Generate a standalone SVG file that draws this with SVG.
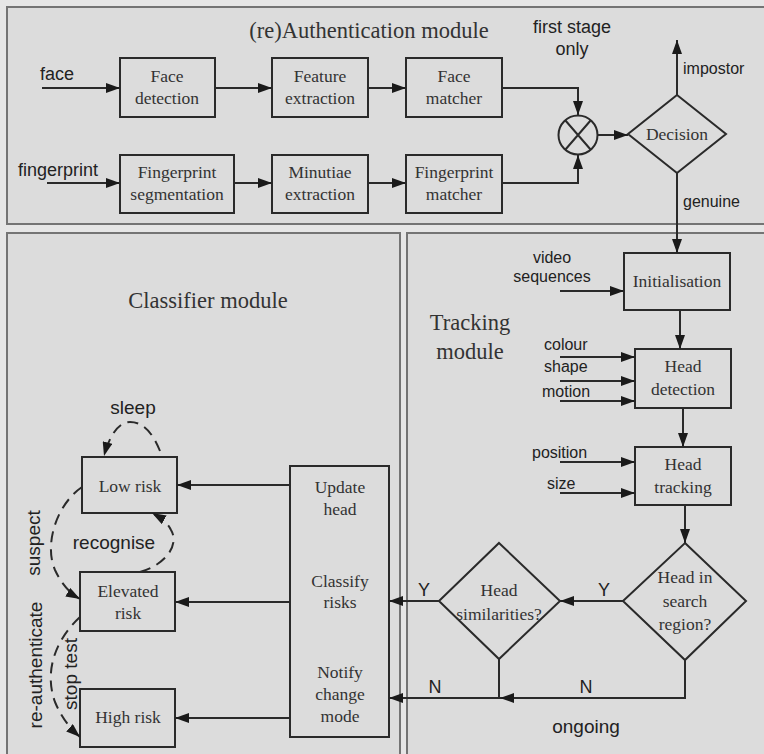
<svg xmlns="http://www.w3.org/2000/svg" width="764" height="754" viewBox="0 0 764 754">
  <style>
    .panel { fill: #dcdcdc; stroke: #747474; stroke-width: 2; }
    .box { fill: none; stroke: #2a2a2a; stroke-width: 2; }
    .ln { fill: none; stroke: #2a2a2a; stroke-width: 2; }
    .dash { fill: none; stroke: #2a2a2a; stroke-width: 2; stroke-dasharray: 11 7; }
    .serif { font-family: "Liberation Serif", "DejaVu Serif", serif; fill: #333; }
    .box-t { font-size: 17.5px; text-anchor: middle; }
    .title { font-size: 22.5px; }
    .sans { font-family: "Liberation Sans", Arial, sans-serif; fill: #222; }
    .s16 { font-size: 16px; }
    .s18 { font-size: 18px; }
    .s19 { font-size: 19px; }
    .mid { text-anchor: middle; }
  </style>
  <defs>
    <marker id="arrow" viewBox="0 0 14 10" refX="14" refY="5" markerWidth="14" markerHeight="10" markerUnits="userSpaceOnUse" orient="auto">
      <path d="M0,0 L14,5 L0,10 z" fill="#1a1a1a"/>
    </marker>
  </defs>

  <!-- background and module panels -->
  <rect x="0" y="0" width="764" height="754" fill="#e6e6e6"/>
  <rect class="panel" x="7" y="7" width="770" height="217"/>
  <rect class="panel" x="7" y="233" width="393" height="530"/>
  <rect class="panel" x="407" y="233" width="370" height="530"/>

  <!-- module titles -->
  <text class="serif title mid" x="369" y="38">(re)Authentication module</text>
  <text class="serif title mid" x="208" y="308">Classifier module</text>
  <text class="serif title mid" x="470" y="330">Tracking</text>
  <text class="serif title mid" x="470" y="359">module</text>

  <!-- authentication nodes -->
  <g id="face-detection">
    <rect class="box" x="120" y="58" width="95" height="59"/>
    <text class="serif box-t" x="167" y="82">Face</text>
    <text class="serif box-t" x="167" y="104">detection</text>
  </g>
  <g id="feature-extraction">
    <rect class="box" x="272" y="58" width="96" height="59"/>
    <text class="serif box-t" x="320" y="82">Feature</text>
    <text class="serif box-t" x="320" y="104">extraction</text>
  </g>
  <g id="face-matcher">
    <rect class="box" x="406" y="58" width="96" height="59"/>
    <text class="serif box-t" x="454" y="82">Face</text>
    <text class="serif box-t" x="454" y="104">matcher</text>
  </g>
  <g id="fingerprint-segmentation">
    <rect class="box" x="120" y="155" width="114" height="58"/>
    <text class="serif box-t" x="177" y="178">Fingerprint</text>
    <text class="serif box-t" x="177" y="200">segmentation</text>
  </g>
  <g id="minutiae-extraction">
    <rect class="box" x="272" y="155" width="96" height="58"/>
    <text class="serif box-t" x="320" y="178">Minutiae</text>
    <text class="serif box-t" x="320" y="200">extraction</text>
  </g>
  <g id="fingerprint-matcher">
    <rect class="box" x="406" y="155" width="96" height="58"/>
    <text class="serif box-t" x="454" y="178">Fingerprint</text>
    <text class="serif box-t" x="454" y="200">matcher</text>
  </g>
  <g id="fusion">
    <circle class="box" cx="578" cy="135" r="19.5"/>
    <path class="ln" d="M565,120 L591,150 M591,120 L565,150" stroke-width="3.5"/>
  </g>
  <g id="decision">
    <polygon class="box" points="677,95 726,134 677,173 628,134"/>
    <text class="serif box-t" x="677" y="140">Decision</text>
  </g>

  <!-- tracking nodes -->
  <g id="initialisation">
    <rect class="box" x="624" y="253" width="106" height="57"/>
    <text class="serif box-t" x="677" y="287">Initialisation</text>
  </g>
  <g id="head-detection">
    <rect class="box" x="635" y="349" width="96" height="59"/>
    <text class="serif box-t" x="683" y="372">Head</text>
    <text class="serif box-t" x="683" y="395">detection</text>
  </g>
  <g id="head-tracking">
    <rect class="box" x="635" y="447" width="96" height="58"/>
    <text class="serif box-t" x="683" y="470">Head</text>
    <text class="serif box-t" x="683" y="493">tracking</text>
  </g>
  <g id="head-in-search-region">
    <polygon class="box" points="685,543 746,601 685,660 623,601"/>
    <text class="serif box-t" x="685" y="583">Head in</text>
    <text class="serif box-t" x="685" y="607">search</text>
    <text class="serif box-t" x="685" y="630">region?</text>
  </g>
  <g id="head-similarities">
    <polygon class="box" points="499,543 560,601 499,659 439,601"/>
    <text class="serif box-t" x="499" y="596">Head</text>
    <text class="serif box-t" x="499" y="620">similarities?</text>
  </g>

  <!-- classifier nodes -->
  <g id="classifier-actions">
    <rect class="box" x="290" y="466" width="99" height="271"/>
    <text class="serif box-t" x="340" y="493">Update</text>
    <text class="serif box-t" x="340" y="515">head</text>
    <text class="serif box-t" x="340" y="587">Classify</text>
    <text class="serif box-t" x="340" y="608">risks</text>
    <text class="serif box-t" x="340" y="678">Notify</text>
    <text class="serif box-t" x="340" y="700">change</text>
    <text class="serif box-t" x="340" y="722">mode</text>
  </g>
  <g id="low-risk">
    <rect class="box" x="82" y="457" width="95" height="56"/>
    <text class="serif box-t" x="130" y="492">Low risk</text>
  </g>
  <g id="elevated-risk">
    <rect class="box" x="80" y="572" width="95" height="59"/>
    <text class="serif box-t" x="128" y="597">Elevated</text>
    <text class="serif box-t" x="128" y="619">risk</text>
  </g>
  <g id="high-risk">
    <rect class="box" x="80" y="689" width="95" height="58"/>
    <text class="serif box-t" x="128" y="723">High risk</text>
  </g>

  <!-- connectors -->
  <g id="connectors">
    <line class="ln" x1="42" y1="88" x2="120" y2="88" marker-end="url(#arrow)"/>
    <line class="ln" x1="215" y1="88" x2="272" y2="88" marker-end="url(#arrow)"/>
    <line class="ln" x1="368" y1="88" x2="406" y2="88" marker-end="url(#arrow)"/>
    <path class="ln" d="M502,88 H578 V115" marker-end="url(#arrow)"/>
    <line class="ln" x1="47" y1="183" x2="120" y2="183" marker-end="url(#arrow)"/>
    <line class="ln" x1="234" y1="183" x2="272" y2="183" marker-end="url(#arrow)"/>
    <line class="ln" x1="368" y1="183" x2="406" y2="183" marker-end="url(#arrow)"/>
    <path class="ln" d="M502,183 H578 V155" marker-end="url(#arrow)"/>
    <line class="ln" x1="598" y1="135" x2="628" y2="135" marker-end="url(#arrow)"/>
    <line class="ln" x1="677" y1="95" x2="677" y2="40" marker-end="url(#arrow)"/>
    <line class="ln" x1="677" y1="173" x2="677" y2="253" marker-end="url(#arrow)"/>

    <line class="ln" x1="560" y1="291" x2="624" y2="291" marker-end="url(#arrow)"/>
    <line class="ln" x1="680" y1="310" x2="680" y2="349" marker-end="url(#arrow)"/>
    <line class="ln" x1="560" y1="357" x2="635" y2="357" marker-end="url(#arrow)"/>
    <line class="ln" x1="560" y1="381" x2="635" y2="381" marker-end="url(#arrow)"/>
    <line class="ln" x1="560" y1="401" x2="635" y2="401" marker-end="url(#arrow)"/>
    <line class="ln" x1="683" y1="408" x2="683" y2="447" marker-end="url(#arrow)"/>
    <line class="ln" x1="560" y1="462" x2="635" y2="462" marker-end="url(#arrow)"/>
    <line class="ln" x1="560" y1="493" x2="635" y2="493" marker-end="url(#arrow)"/>
    <line class="ln" x1="685" y1="505" x2="685" y2="543" marker-end="url(#arrow)"/>
    <line class="ln" x1="623" y1="601" x2="560" y2="601" marker-end="url(#arrow)"/>
    <line class="ln" x1="439" y1="601" x2="389" y2="601" marker-end="url(#arrow)"/>
    <path class="ln" d="M685,660 V698 H500" marker-end="url(#arrow)"/>
    <path class="ln" d="M499,659 V698 H389" marker-end="url(#arrow)"/>

    <line class="ln" x1="290" y1="485" x2="177" y2="485" marker-end="url(#arrow)"/>
    <line class="ln" x1="290" y1="602" x2="175" y2="602" marker-end="url(#arrow)"/>
    <line class="ln" x1="290" y1="718" x2="175" y2="718" marker-end="url(#arrow)"/>

    <path class="dash" d="M160,451 C152,431 142,422 130,422 C118,422 109,437 104,456" marker-end="url(#arrow)"/>
    <path class="dash" d="M82,487 C56,505 44,545 55,570 C62,585 71,594 80,599" marker-end="url(#arrow)"/>
    <path class="dash" d="M140,572 C165,565 180,545 171,530 C167,522 161,518 152,513" marker-end="url(#arrow)"/>
    <path class="dash" d="M80,617 C55,640 44,672 55,702 C62,719 71,729 80,737" marker-end="url(#arrow)"/>
  </g>

  <!-- connector labels -->
  <text class="sans s18" x="40" y="80">face</text>
  <text class="sans s18" x="18" y="176">fingerprint</text>
  <text class="sans s18 mid" x="572" y="33">first stage</text>
  <text class="sans s18 mid" x="572" y="55">only</text>
  <text class="sans s16" x="683" y="74">impostor</text>
  <text class="sans s16" x="683" y="207">genuine</text>
  <text class="sans s16 mid" x="552" y="263">video</text>
  <text class="sans s16 mid" x="552" y="282">sequences</text>
  <text class="sans s16" x="544" y="350">colour</text>
  <text class="sans s16" x="544" y="372">shape</text>
  <text class="sans s16" x="542" y="397">motion</text>
  <text class="sans s16" x="532" y="458">position</text>
  <text class="sans s16" x="547" y="489">size</text>
  <text class="sans s18 mid" x="604" y="596">Y</text>
  <text class="sans s18 mid" x="424" y="596">Y</text>
  <text class="sans s18 mid" x="586" y="693">N</text>
  <text class="sans s18 mid" x="435" y="693">N</text>
  <text class="sans s19 mid" x="586" y="733">ongoing</text>
  <text class="sans s19 mid" x="133" y="414">sleep</text>
  <text class="sans s19 mid" x="114" y="549">recognise</text>
  <text class="sans s19 mid" transform="translate(40,543) rotate(-90)">suspect</text>
  <text class="sans s19 mid" transform="translate(42,665) rotate(-90)">re-authenticate</text>
  <text class="sans s19 mid" transform="translate(77,674) rotate(-90)">stop test</text>
</svg>
